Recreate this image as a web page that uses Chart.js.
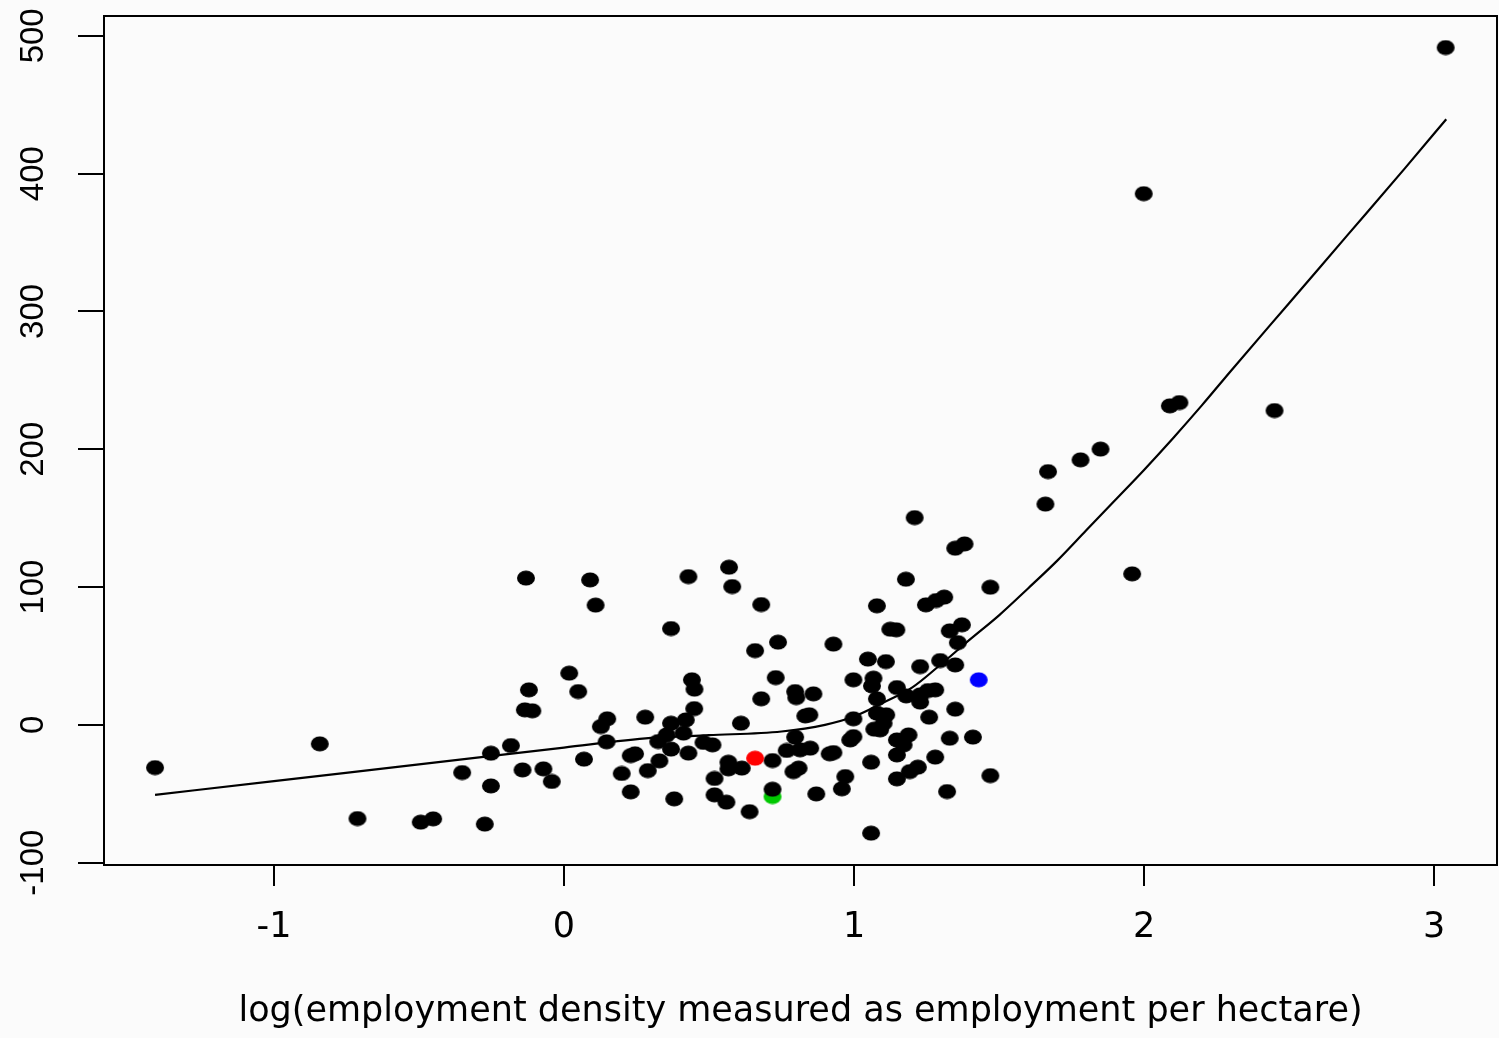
<!DOCTYPE html>
<html>
<head>
<meta charset="utf-8">
<script src="https://cdn.jsdelivr.net/npm/chart.js@4"></script>
<style>
  html, body { margin: 0; padding: 0; background: #fbfbfb; }
  canvas { display: block; }
</style>
</head>
<body>
<canvas id="scatter-chart" width="1499" height="1038"></canvas>
<script>
// log(employment density) of each area (black points)
const logDensity = [
  -1.41, -0.842, -0.712, -0.494, -0.451, -0.351, -0.252, -0.252, -0.273, -0.183, -0.143, -0.071, -0.042, -0.131, -0.121, -0.135, -0.109,
  0.090, 0.109, 0.429, 0.569, 0.580, 0.680, 0.369, 0.738, 0.659, 0.018, 0.049, 0.441, 0.450, 0.730, 0.680, 0.449, 0.280, 0.149, 0.127, 0.420,
  0.369, 0.610, 0.412, 0.354, 0.147, 0.325, 0.369, 0.481, 0.512, 0.429, 0.245, 0.230, 0.069, 0.329, 0.289, 0.199, 0.567, 0.567, 0.613, 0.719,
  0.519, 0.791, 0.230, 0.380, 0.519, 0.560, 0.640, 0.719,
  1.209, 1.349, 1.381, 1.179, 1.470, 1.079, 1.248, 1.283, 1.311, 1.125, 1.146, 1.330, 1.372, 1.358, 0.929, 1.048, 1.110, 1.228, 1.297, 1.349,
  0.998, 1.067, 1.062, 1.148, 1.180, 1.228, 1.255, 1.280, 1.228, 1.079, 0.797, 0.801, 0.860, 1.349, 1.259, 0.832, 0.846, 0.998, 1.079, 1.111,
  1.102, 1.070, 1.090, 0.998, 0.987, 1.148, 1.188, 1.171, 1.330, 1.410, 0.797, 0.768, 0.849, 0.814, 0.916, 0.929, 1.059, 1.148, 1.280, 0.809,
  0.970, 1.148, 1.192, 1.220, 1.470, 0.958, 0.870, 1.321, 1.059,
  3.040, 1.999, 2.089, 2.122, 2.450, 1.850, 1.781, 1.669, 1.660, 1.959
];

// value on the vertical axis for each point (same order)
const values = [
  -31, -13.8, -68, -70.6, -68.2, -34.6, -20.6, -44.3, -72, -15, -32.7, -31.9, -41.1, 106.5, 25.4, 10.9, 10.2,
  105.2, 86.9, 107.6, 114.4, 100.4, 87.3, 69.9, 60, 53.9, 37.5, 24.2, 32.7, 25.9, 34.3, 18.9, 11.8, 5.6, 4.4, -1.2, 3.6,
  1.2, 1.2, -6, -7.3, -12.3, -12.1, -17.6, -12.8, -14.5, -20.5, -21, -22.3, -24.9, -26.1, -33.2, -35.3, -27.1, -31.9, -31.4, -25.9,
  -38.9, -33.9, -48.6, -53.7, -50.8, -56.1, -63, -46.7,
  150.4, 128.2, 131.3, 105.7, 99.9, 86.4, 87.1, 90.2, 92.7, 69.4, 69, 68.2, 72.6, 59.7, 58.6, 47.7, 45.9, 42.3, 46.7, 43.5,
  32.7, 33.9, 28.3, 27.1, 21, 21.8, 24.9, 25.4, 16.5, 18.9, 24.2, 19.8, 22.5, 11.4, 5.6, 6.5, 7.3, 4.4, 8.5, 7.3,
  1.2, -3.1, -3.6, -8.5, -10.9, -10.9, -7.3, -14.5, -9.7, -8.9, -8.9, -18.6, -16.9, -18.1, -21, -20.1, -27.1, -21.8, -23.4, -31.4,
  -37.5, -39.2, -33.9, -30.7, -36.8, -46.4, -50.1, -48.4, -78.6,
  491.5, 385.5, 231.5, 233.9, 228.1, 200.1, 192.3, 183.8, 160.2, 109.6
];

// coloured points: red and blue on top, green under the black ones
const topX = [0.659, 1.430];
const topY = [-24.2, 32.7];
const topColors = ['#ff0000', '#0000ff'];
const greenX = [0.719];
const greenY = [-52];

// fitted smooth curve
const curveX = [-1.41, -1.0, -0.5, 0, 0.3, 0.5, 0.75, 0.9, 1.0, 1.1, 1.2, 1.3, 1.4, 1.5, 1.6, 1.7, 1.8, 1.9, 2.0, 2.1, 2.2, 2.3, 2.5, 2.7, 2.9, 3.042];
const curveY = [-50.8, -40.8, -28.7, -16.5, -9.5, -7.5, -4.8, 0, 6, 16, 27, 44, 62, 79.5, 99, 119, 141, 163, 185, 208, 232, 257, 306, 355, 404, 439.5];

// axis ticks
const xTicks = [-1, 0, 1, 2, 3];
const yTicks = [-100, 0, 100, 200, 300, 400, 500];
const xTitle = 'log(employment density measured as employment per hectare)';

function toPoints(xs, ys) {
    return xs.map((x, i) => ({ x: x, y: ys[i] }));
}

// 楕円のマーカー（R の pch=19 が横に伸びた形）
function ellipseMarker(color) {
    const c = document.createElement('canvas');
    c.width = 20;
    c.height = 16;
    const g = c.getContext('2d');
    g.fillStyle = color;
    g.beginPath();
    g.ellipse(10, 8, 9, 7.6, 0, 0, Math.PI * 2);
    g.fill();
    return c;
}

const blackMarker = ellipseMarker('#000000');

// background and frame box
const framePlugin = {
    id: 'frame',
    beforeDraw(chart) {
        const ctx = chart.ctx;
        ctx.save();
        ctx.fillStyle = '#fbfbfb';
        ctx.fillRect(0, 0, chart.width, chart.height);
        ctx.restore();
    },
    afterDatasetsDraw(chart) {
        const a = chart.chartArea;
        const ctx = chart.ctx;
        ctx.save();
        ctx.strokeStyle = '#000';
        ctx.lineWidth = 2;
        ctx.strokeRect(a.left, a.top, a.right - a.left, a.bottom - a.top);
        ctx.restore();
    }
};

const ctx = document.getElementById('scatter-chart').getContext('2d');
const chart = new Chart(ctx, {
    type: 'scatter',
    data: {
        datasets: [
            {
                data: toPoints(topX, topY),
                pointStyle: topColors.map(ellipseMarker),
                pointRadius: 9
            },
            {
                data: toPoints(logDensity, values),
                pointStyle: blackMarker,
                pointRadius: 9
            },
            {
                data: toPoints(greenX, greenY),
                pointStyle: ellipseMarker('#00c800'),
                pointRadius: 9
            },
            {
                data: toPoints(curveX, curveY),
                showLine: true,
                pointRadius: 0,
                borderColor: '#000',
                borderWidth: 2.2,
                cubicInterpolationMode: 'monotone'
            }
        ]
    },
    options: {
        responsive: false,
        animation: false,
        events: [],
        layout: { autoPadding: false, padding: { top: 16, right: 2, left: 0, bottom: 0 } },
        plugins: {
            legend: { display: false },
            tooltip: { enabled: false }
        },
        scales: {
            x: {
                type: 'linear',
                min: -1.586,
                max: 3.217,
                afterBuildTicks(scale) {
                    scale.ticks = xTicks.map(v => ({ value: v }));
                },
                afterFit(scale) {
                    scale.height = 173;
                    scale.paddingLeft = 0;
                    scale.paddingRight = 0;
                },
                border: { display: false },
                grid: {
                    drawOnChartArea: false,
                    drawTicks: true,
                    tickLength: 21,
                    color: '#000',
                    lineWidth: 2
                },
                ticks: {
                    autoSkip: false,
                    maxRotation: 0,
                    padding: 21,
                    color: '#000',
                    font: { family: 'DejaVu Sans', size: 35 },
                    callback: v => String(v)
                },
                title: {
                    display: true,
                    text: xTitle,
                    color: '#000',
                    font: { family: 'DejaVu Sans', size: 35 },
                    padding: { top: 0, bottom: 5 }
                }
            },
            y: {
                type: 'linear',
                min: -101.7,
                max: 514.4,
                afterBuildTicks(scale) {
                    scale.ticks = yTicks.map(v => ({ value: v }));
                },
                afterFit(scale) {
                    scale.width = 104;
                    scale.paddingTop = 0;
                    scale.paddingBottom = 0;
                },
                border: { display: false },
                grid: {
                    drawOnChartArea: false,
                    drawTicks: true,
                    tickLength: 26,
                    color: '#000',
                    lineWidth: 2
                },
                ticks: {
                    autoSkip: false,
                    minRotation: 90,
                    maxRotation: 90,
                    crossAlign: 'center',
                    padding: 11,
                    color: '#000',
                    font: { family: 'Liberation Sans', size: 33 },
                    callback: v => String(v)
                }
            }
        }
    },
    plugins: [framePlugin]
});
</script>
</body>
</html>
